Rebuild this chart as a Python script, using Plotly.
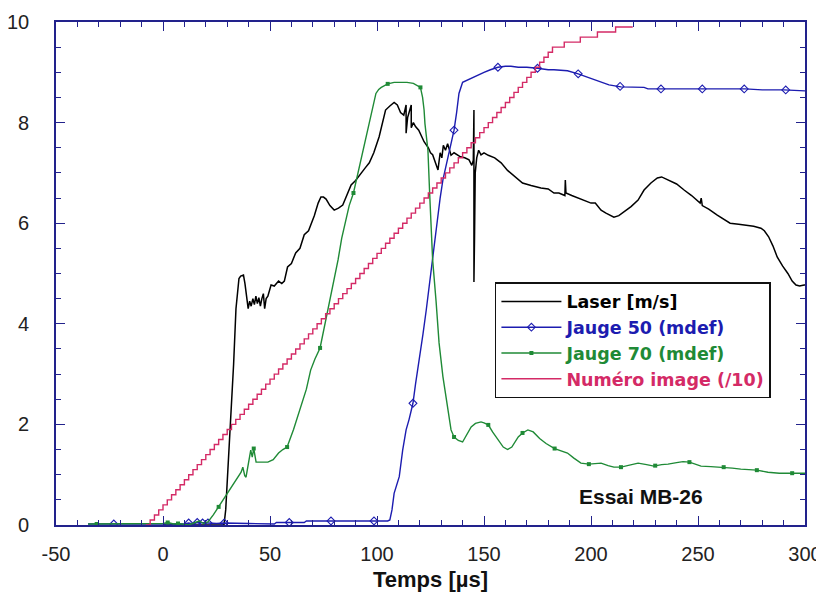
import plotly.graph_objects as go

# ---------------- data ----------------
laser_t = [0, 28.5, 29.3, 30.5, 31.8, 33, 34.1, 35.5, 36.3, 37.6, 38.3, 39.2, 39.8, 40.5, 41.2, 42,
           42.7, 43.4, 44.1, 44.8, 45.5, 46.2, 46.9, 47.5, 48.2, 49, 50.5, 52, 54, 55.5, 56.7, 58.2,
           60, 62, 64, 66, 68, 70.7, 72.5, 73.8, 75, 76.2, 78, 80, 82, 84, 86, 87.9, 90, 92.5, 94.5,
           96.4, 98.5, 101, 102.5, 104, 106, 108, 109.5, 111, 112.5, 113.6, 113.6, 114.3, 116, 116,
           117, 118, 119.5, 120.6, 122, 124, 125, 126, 127, 128.5, 129.5, 130.3, 131, 132, 133, 134.6,
           136, 137.8, 139, 141, 143, 144.3, 145, 145.3, 145.3, 145.6, 145.9, 146.6, 147.5, 148.6,
           150, 152, 155, 158, 161, 164, 168, 172, 176.6, 180, 182.7, 185, 187.8, 188, 188.3, 191,
           193.9, 197, 200, 202, 204.7, 207, 210.7, 213, 215.4, 218.7, 222, 224.8, 228, 231, 233,
           236, 240, 243.5, 247, 251, 251.5, 252, 255, 259, 262, 265, 269, 273, 276, 279.4, 281,
           283, 285, 287, 289.5, 292, 294, 295.8, 297.5, 299.6, 300]
laser_v = [0, 0, 0.3, 1.2, 2.1, 3.2, 4.3, 4.9, 4.95, 4.97, 4.8, 4.45, 4.3, 4.45, 4.35, 4.5,
           4.38, 4.55, 4.4, 4.52, 4.35, 4.5, 4.6, 4.3, 4.5, 4.55, 4.77, 4.75, 4.85, 4.8, 4.85, 5.13,
           5.2, 5.41, 5.5, 5.77, 5.85, 6.15, 6.4, 6.52, 6.52, 6.48, 6.35, 6.26, 6.3, 6.36, 6.55, 6.76,
           6.85, 7.0, 7.1, 7.2, 7.4, 7.72, 8.0, 8.25, 8.33, 8.4, 8.35, 8.2, 8.15, 8.35, 7.79, 8.1,
           8.35, 7.9, 8.0, 7.92, 7.85, 7.75, 7.62, 7.5, 7.4, 7.36, 7.25, 7.06, 7.4, 7.3, 7.55, 7.45,
           7.58, 7.35, 7.4, 7.36, 7.32, 7.3, 7.26, 7.15, 7.25, 8.25, 4.83, 5.8, 7.0, 7.3, 7.45, 7.36,
           7.4, 7.35, 7.3, 7.2, 7.05, 6.95, 6.8, 6.75, 6.7, 6.68, 6.6, 6.6, 6.55, 6.86, 6.6, 6.55,
           6.5, 6.45, 6.4, 6.4, 6.26, 6.2, 6.12, 6.15, 6.22, 6.33, 6.46, 6.66, 6.8, 6.9, 6.92,
           6.86, 6.78, 6.66, 6.55, 6.4, 6.5, 6.35, 6.28, 6.16, 6.08, 6.0, 5.98, 5.96, 5.94, 5.9, 5.85,
           5.73, 5.55, 5.33, 5.15, 5.0, 4.85, 4.77, 4.75, 4.77, 4.77]

gauge50_t = [-35, -23, 0, 10, 12, 14, 16, 18.5, 21, 25, 28.6, 40, 52, 53, 60, 66, 67, 80, 98.6, 105,
             106, 107, 108, 109, 110.4, 112, 113.6, 115, 116.8, 118, 119.8, 121.5, 123, 124.5, 126,
             127.3, 128.5, 129.5, 130.8, 132, 133, 134.5, 136, 137.2, 138.3, 140, 144, 147, 150, 153,
             156.5, 160, 162.6, 166, 170, 175, 180, 182.7, 189, 194, 198.6, 204.7, 208.4, 214, 220,
             224.8, 226.6, 240, 252, 265, 272, 280, 290, 300]
gauge50_v = [0.02, 0.02, 0.02, 0.02, 0.04, 0.02, 0.05, 0.04, 0.04, 0.03, 0.04, 0.03, 0.02, 0.05, 0.05,
             0.05, 0.08, 0.08, 0.08, 0.08, 0.1, 0.3, 0.63, 0.75, 0.96, 1.49, 1.89, 2.1, 2.42, 2.8, 3.28,
             3.8, 4.27, 4.8, 5.27, 5.7, 6.13, 6.5, 6.86, 7.1, 7.32, 7.6, 7.85, 8.2, 8.58, 8.8, 8.88,
             8.95, 9.0, 9.05, 9.1, 9.12, 9.12, 9.1, 9.1, 9.08, 9.05, 9.05, 9.03, 8.97, 8.9, 8.81, 8.75,
             8.71, 8.71, 8.7, 8.67, 8.67, 8.67, 8.66, 8.67, 8.65, 8.65, 8.63]
gauge50_mark_t = [-23, 12, 16, 18.5, 21, 28.6, 59, 78.5, 98.6, 116.8, 136, 156.5, 175, 194, 213.6,
                  232.7, 252, 271.6, 291]
gauge50_mark_v = [0.02, 0.04, 0.05, 0.04, 0.04, 0.04, 0.05, 0.08, 0.08, 2.42, 7.85, 9.1, 9.08, 8.97,
                  8.72, 8.67, 8.67, 8.67, 8.65]

gauge70_t = [-35, -31, -20, -10, 0, 2.2, 5, 7, 12, 15, 17, 19, 21, 23.5, 26, 28, 30, 32, 33.5, 35.5,
             36.5, 37.3, 38.2, 38.8, 40, 41, 41.7, 42.4, 43.5, 46, 49, 51.5, 54, 56, 58, 61, 64.5, 67,
             69, 71, 73.4, 75, 77, 79.5, 81.8, 83.5, 85.5, 87, 89, 90.8, 92.5, 94.5, 96.4, 98, 99.5,
             100.8, 102, 105, 108, 111, 114, 117, 119, 120.3, 121.3, 122, 122.4, 123.8, 124.6, 125.2,
             126, 127.6, 129, 130.8, 133, 134.6, 136, 138, 140, 142, 144, 146, 148.6, 150, 152, 154,
             156.5, 159, 161, 163, 166, 168, 170.5, 173, 176, 179, 183, 186, 189, 192, 195.3, 199,
             204.7, 208, 210.7, 214, 218, 222, 226, 229.4, 233, 236, 240, 243, 246, 249, 251.4, 256,
             261.7, 266, 270, 274, 277.5, 282.7, 288, 294, 300]
gauge70_v = [0.02, 0.02, 0.02, 0.02, 0.03, 0.05, 0.02, 0.03, 0.0, 0.05, 0.08, 0.03, 0.06, 0.2, 0.36,
             0.5, 0.63, 0.75, 0.85, 0.96, 1.05, 1.15, 0.98, 0.95, 1.3, 1.49, 1.35, 1.52, 1.25, 1.25,
             1.25, 1.3, 1.43, 1.5, 1.55, 1.9, 2.35, 2.7, 3.08, 3.3, 3.52, 3.85, 4.21, 4.75, 5.27, 5.7,
             6.06, 6.35, 6.6, 6.95, 7.26, 7.6, 7.98, 8.3, 8.58, 8.66, 8.7, 8.77, 8.8, 8.8, 8.8, 8.78,
             8.74, 8.7, 8.5, 8.25, 7.98, 7.45, 6.6, 5.93, 5.27, 4.45, 3.62, 2.95, 2.35, 1.89, 1.75,
             1.68, 1.65, 1.8, 1.95, 2.02, 2.05, 2.03, 1.99, 1.85, 1.69, 1.55, 1.5, 1.55, 1.75, 1.83,
             1.89, 1.85, 1.72, 1.62, 1.52, 1.48, 1.43, 1.33, 1.23, 1.21, 1.23, 1.18, 1.15, 1.15, 1.19,
             1.23, 1.2, 1.17, 1.2, 1.21, 1.24, 1.26, 1.25, 1.2, 1.17, 1.16, 1.15, 1.13, 1.11, 1.1, 1.09,
             1.05, 1.03, 1.03, 1.03]
gauge70_mark_t = [-31, 2.2, 7, 26, 42.4, 58, 73.4, 89, 105, 120.3, 136, 152, 168, 183, 199, 214, 230,
                  246, 262, 277.5, 294]
gauge70_mark_v = [0.02, 0.05, 0.03, 0.36, 1.52, 1.55, 3.52, 6.6, 8.77, 8.7, 1.75, 1.99, 1.83, 1.52,
                  1.21, 1.15, 1.18, 1.25, 1.15, 1.09, 1.03]

image_t = [-8, -6, -4, -2, 0, 2, 4, 6, 8, 10,
           12, 14, 16, 18, 20, 22, 24, 26, 28, 30,
           32, 34, 36, 38, 40, 42, 44, 46, 48, 50,
           52, 54, 56, 58, 60, 62, 64, 66, 68, 70,
           72, 74, 76, 78, 80, 82, 84, 86, 88, 90,
           92, 94, 96, 98, 100, 102, 104, 106, 108, 110,
           112, 114, 116, 118, 120, 122, 124, 126, 128, 130,
           132, 134, 136, 138, 140, 142, 144, 146, 148, 150,
           152, 154, 156, 158, 160, 162, 164, 166, 168, 170,
           172, 174, 176, 178, 180, 182, 187.5, 195, 203, 211.5, 219.5]
image_v = [0.0, 0.1, 0.2, 0.3, 0.4, 0.5, 0.6, 0.7, 0.8, 0.9,
           1.0, 1.1, 1.2, 1.3, 1.4, 1.5, 1.6, 1.7, 1.8, 1.9,
           2.0, 2.1, 2.2, 2.3, 2.4, 2.5, 2.6, 2.7, 2.8, 2.9,
           3.0, 3.1, 3.2, 3.3, 3.4, 3.5, 3.6, 3.7, 3.8, 3.9,
           4.0, 4.1, 4.2, 4.3, 4.4, 4.5, 4.6, 4.7, 4.8, 4.9,
           5.0, 5.1, 5.2, 5.3, 5.4, 5.5, 5.6, 5.7, 5.8, 5.9,
           6.0, 6.1, 6.2, 6.3, 6.4, 6.5, 6.6, 6.7, 6.8, 6.9,
           7.0, 7.1, 7.2, 7.3, 7.4, 7.5, 7.6, 7.7, 7.8, 7.9,
           8.0, 8.1, 8.2, 8.3, 8.4, 8.5, 8.6, 8.7, 8.8, 8.9,
           9.0, 9.1, 9.2, 9.3, 9.4, 9.5, 9.6, 9.7, 9.8, 9.9, 9.9]

x_ticks = [-50, 0, 50, 100, 150, 200, 250, 300]
y_ticks = [0, 2, 4, 6, 8, 10]

# ---------------- styles ----------------
AXIS = "#22228c"
C_LASER = "#000000"
C_J50 = "#1c1cb0"
C_J70 = "#1f8a36"
C_IMG = "#d42a66"
FONT = "Liberation Sans, Arial, sans-serif"
LEGFONT = "DejaVu Sans, Liberation Sans, sans-serif"

fig = go.Figure()

fig.add_trace(go.Scatter(x=laser_t, y=laser_v, mode="lines", line=dict(color=C_LASER, width=1.5),
                         showlegend=False, hoverinfo="skip"))
fig.add_trace(go.Scatter(x=gauge50_t, y=gauge50_v, mode="lines", line=dict(color=C_J50, width=1.4),
                         showlegend=False, hoverinfo="skip"))
fig.add_trace(go.Scatter(x=gauge50_mark_t, y=gauge50_mark_v, mode="markers",
                         marker=dict(symbol="diamond-open", size=6, color=C_J50, line=dict(width=1.1)),
                         showlegend=False, hoverinfo="skip"))
fig.add_trace(go.Scatter(x=gauge70_t, y=gauge70_v, mode="lines", line=dict(color=C_J70, width=1.4),
                         showlegend=False, hoverinfo="skip"))
fig.add_trace(go.Scatter(x=gauge70_mark_t, y=gauge70_mark_v, mode="markers",
                         marker=dict(symbol="square", size=4, color=C_J70),
                         showlegend=False, hoverinfo="skip"))
fig.add_trace(go.Scatter(x=image_t, y=image_v, mode="lines", line=dict(color=C_IMG, width=1.4, shape="hv"),
                         showlegend=False, hoverinfo="skip"))

# legend-only entries
leg = [
    ("Laser [m/s]", C_LASER, "lines", None),
    ("Jauge 50 (mdef)", C_J50, "lines+markers", dict(symbol="diamond-open", size=6, color=C_J50, line=dict(width=1.1))),
    ("Jauge 70 (mdef)", C_J70, "lines+markers", dict(symbol="square", size=4, color=C_J70)),
    ("Numéro image (/10)", C_IMG, "lines", None),
]
for i, (name, col, mode, mk) in enumerate(leg):
    kw = dict(x=[None], y=[None], mode=mode, line=dict(color=col, width=1.4),
              name=f"<b><span style='color:{col}'>{name}</span></b>", legendrank=i + 1)
    if mk:
        kw["marker"] = mk
    fig.add_trace(go.Scatter(**kw))

fig.add_annotation(x=223.5, y=0.56, xref="x", yref="y", text="<b>Essai MB-26</b>", showarrow=False,
                   font=dict(family=FONT, size=21, color="#111"))

# the page body has an 8 px margin: figure is sized so that the page does not overflow
fig.update_layout(
    width=816, height=584,
    margin=dict(l=48, r=19, t=14, b=67, autoexpand=False),
    paper_bgcolor="white", plot_bgcolor="white",
    font=dict(family=FONT, size=20, color="#222"),
    legend=dict(x=0.586, y=0.483, xanchor="left", yanchor="top",
                bgcolor="white", bordercolor="#111", borderwidth=1.5,
                font=dict(family=LEGFONT, size=17.5), itemwidth=60, tracegroupgap=0,
                traceorder="normal"),
    showlegend=True,
)
fig.update_xaxes(range=[-50, 300], tickmode="array", tickvals=x_ticks,
                 ticktext=[str(v) for v in x_ticks], automargin=False,
                 showgrid=False, zeroline=False, showline=True, linecolor=AXIS, linewidth=1.6,
                 mirror="ticks", ticks="inside", ticklen=9, tickwidth=1.4, tickcolor=AXIS,
                 minor=dict(dtick=10, tick0=0, ticks="inside", ticklen=5, tickwidth=1.2, tickcolor=AXIS,
                            showgrid=False),
                 ticklabelstandoff=10,
                 title=dict(text="<b>Temps [µs]</b>", font=dict(family=FONT, size=22, color="#111"),
                            standoff=15))
fig.update_yaxes(range=[0, 10], tickmode="array", tickvals=y_ticks,
                 ticktext=[str(v) for v in y_ticks], automargin=False,
                 showgrid=False, zeroline=False, showline=True, linecolor=AXIS, linewidth=1.6,
                 mirror="ticks", ticks="inside", ticklen=9, tickwidth=1.4, tickcolor=AXIS,
                 minor=dict(dtick=0.5, tick0=0, ticks="inside", ticklen=5, tickwidth=1.2, tickcolor=AXIS,
                            showgrid=False),
                 ticklabelstandoff=21)

fig.write_html("out.html")
